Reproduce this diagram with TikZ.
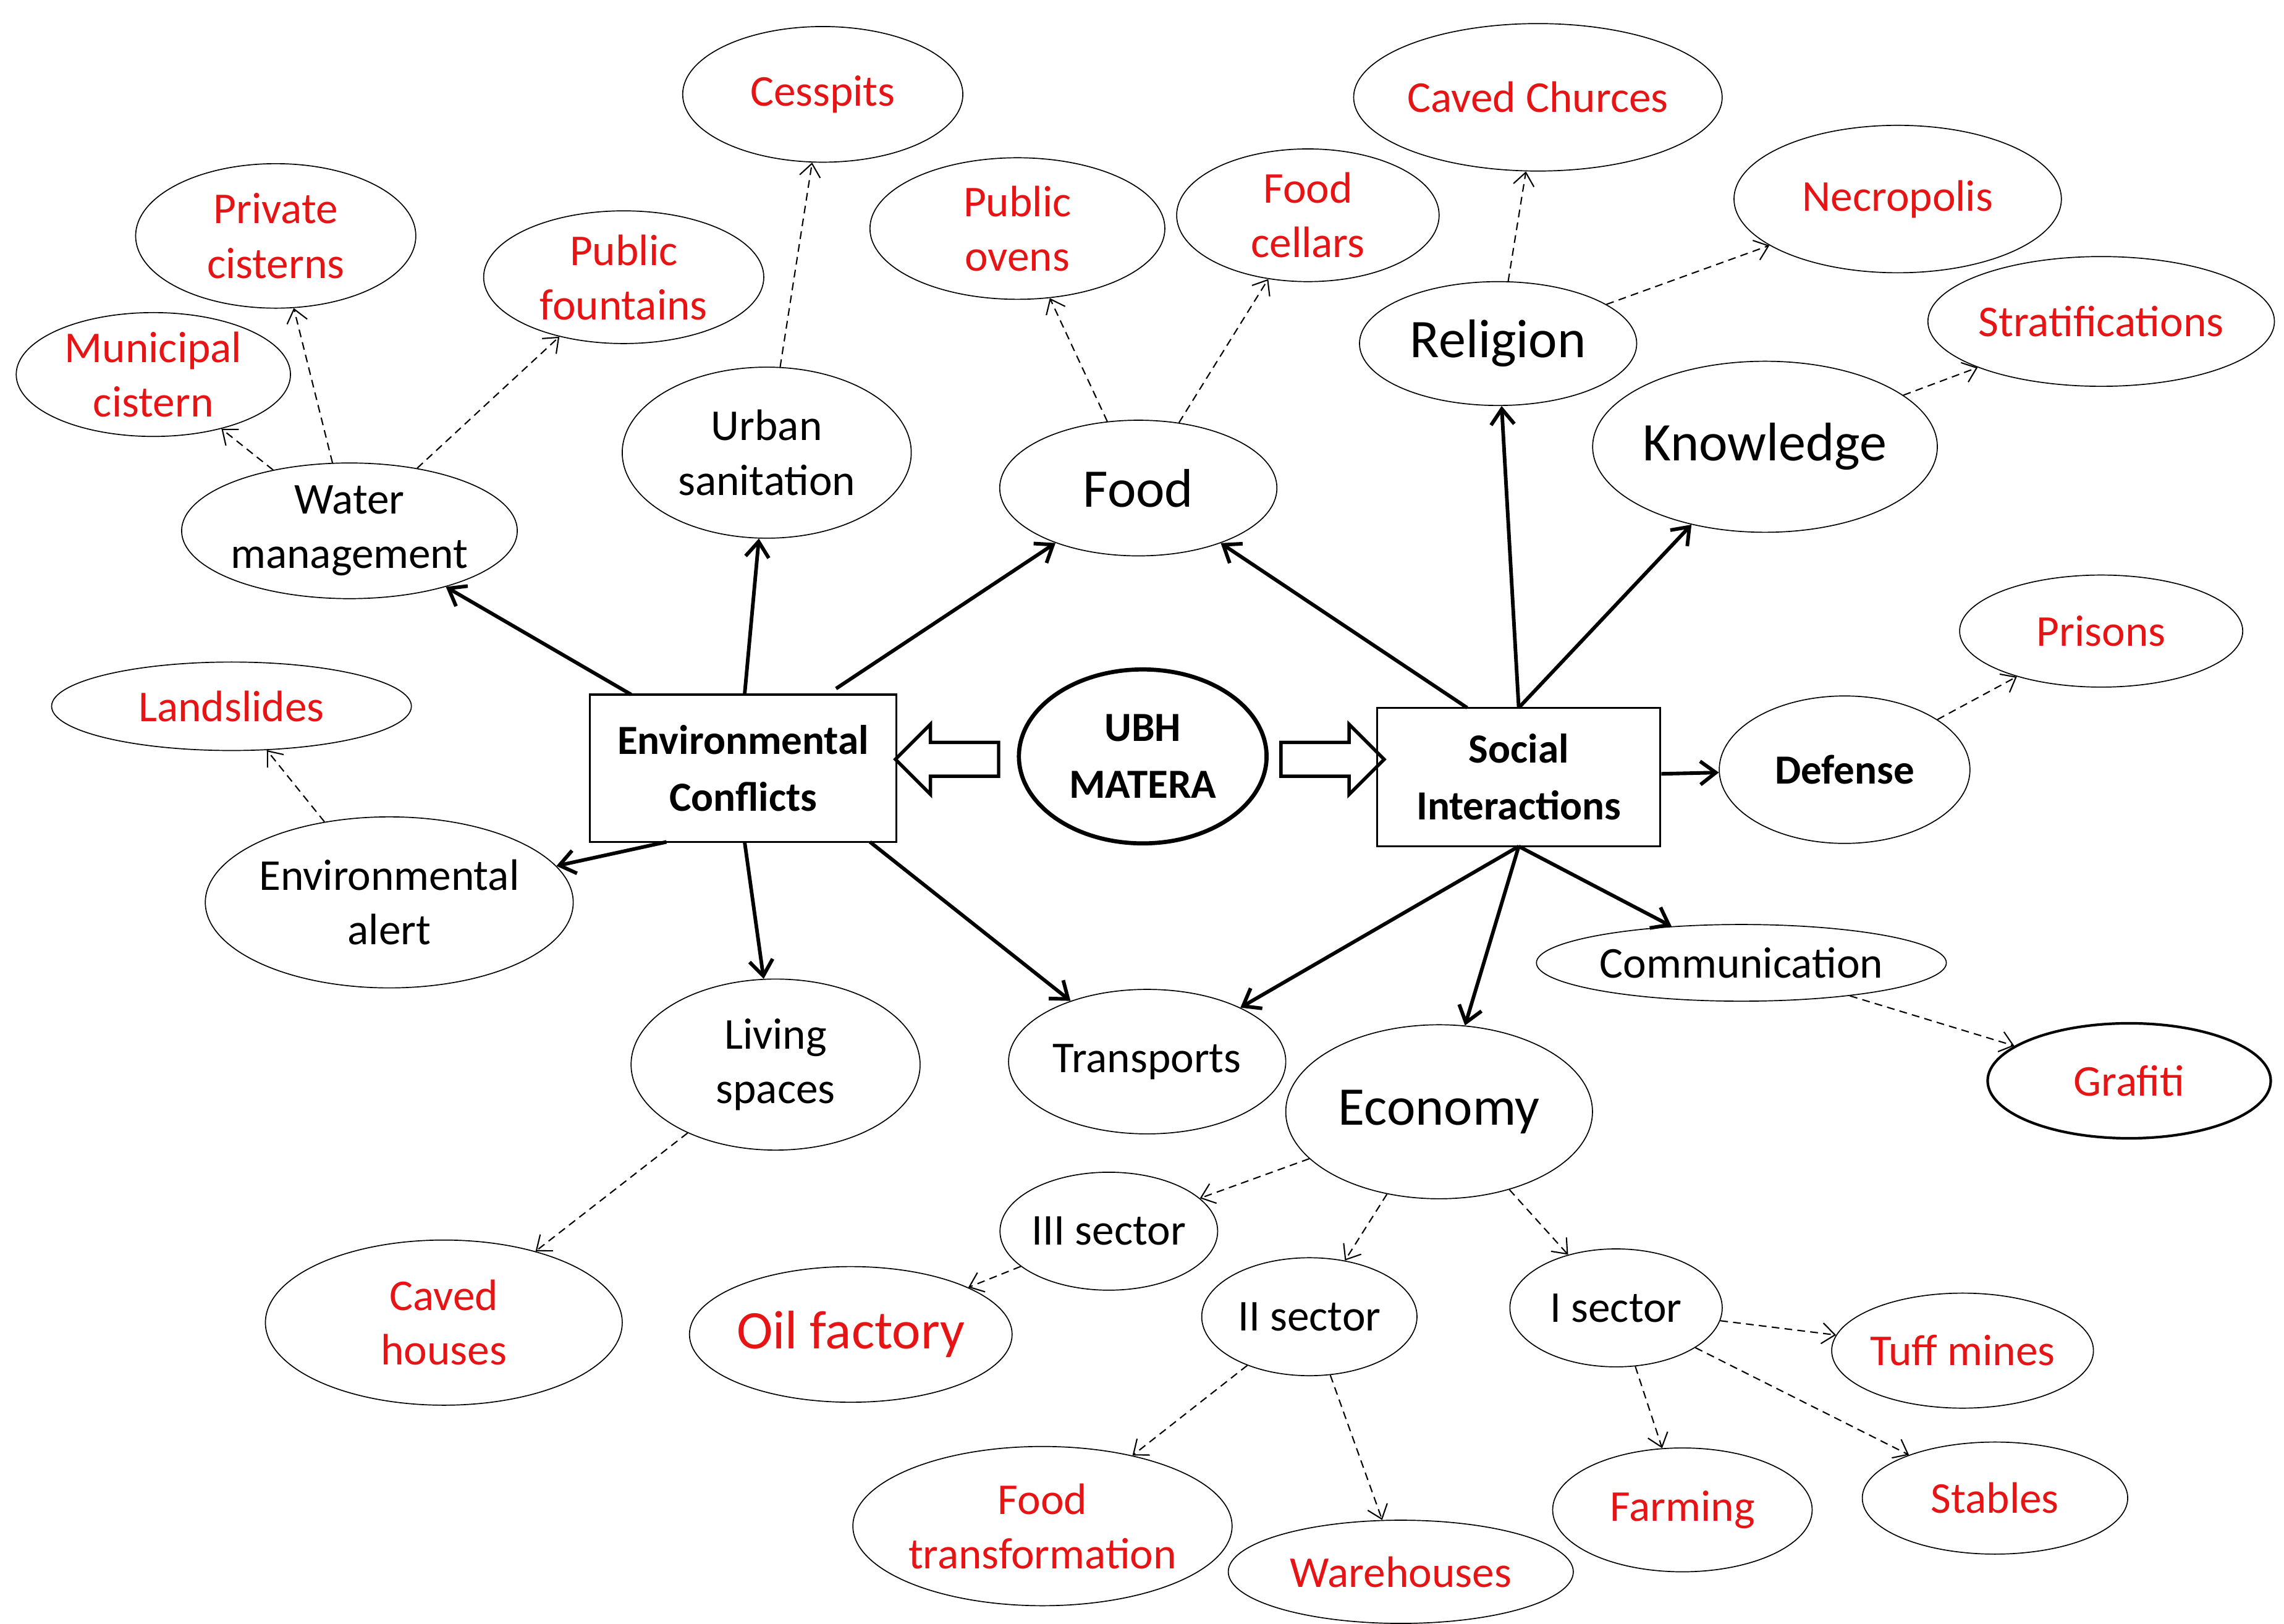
\documentclass[tikz,border=0pt]{standalone}
\usepackage{fontspec}
\setmainfont{Carlito}
\usetikzlibrary{shapes.geometric,shapes.arrows,arrows.meta}
\definecolor{rd}{RGB}{230,20,20}
\begin{document}
\begin{tikzpicture}[x=0.02cm,y=-0.02cm,
 e/.style={ellipse,draw,inner sep=0pt,align=center,font=\fontsize{17}{21}\selectfont},
 r/.style={e,text=rd},
 big/.style={font=\fontsize{21}{25}\selectfont},
 bx/.style={draw,thick,align=center,inner sep=0pt,font=\bfseries\fontsize{16}{22}\selectfont},
 s/.style={-{Straight Barb[length=6pt,width=9pt]},line width=1.4pt},
 d/.style={-{Straight Barb[length=5pt,width=8pt]},densely dashed,line width=0.5pt}]
\useasboundingbox (0,0) rectangle (1549,1101);
\node[e,thick,line width=1.6pt,minimum width=3.36cm,minimum height=2.36cm,font=\bfseries\fontsize{16}{22}\selectfont] (ubh) at (775,513) {UBH\\MATERA};
\node[bx,minimum width=4.16cm,minimum height=2cm] (env) at (504,521) {Environmental\\Conflicts};
\node[bx,minimum width=3.84cm,minimum height=1.88cm] (soc) at (1030,527) {Social\\Interactions};
\node[single arrow,draw,line width=1.3pt,minimum height=1.4cm,minimum width=0.95cm,single arrow head extend=0.15cm,shape border rotate=180] at (648,515) {};
\node[single arrow,draw,line width=1.3pt,minimum height=1.4cm,minimum width=0.95cm,single arrow head extend=0.15cm] at (898,515) {};
\def\N#1#2#3#4#5#6#7{\node[#1,minimum width=#4*0.02cm,minimum height=#5*0.02cm] (#6) at (#2,#3) {#7};}
\N{e}{237}{360}{206}{92}{wm}{Water\\management}
\N{r}{104}{254}{186}{84}{mc}{Municipal\\cistern}
\N{r}{187}{160}{190}{98}{pc}{Private\\cisterns}
\N{r}{423}{188}{190}{90}{pf}{Public\\fountains}
\N{r}{558}{64}{190}{92}{ce}{Cesspits}
\N{e}{520}{307}{196}{116}{us}{Urban\\sanitation}
\N{e,big}{772}{331}{188}{92}{fo}{Food}
\N{r}{690}{155}{200}{96}{po}{Public\\ovens}
\N{r}{887}{146}{178}{90}{fc}{Food\\cellars}
\N{r}{1043}{66}{214}{100}{cc}{Caved Churces}
\N{e,big}{1016}{233}{188}{84}{re}{Religion}
\N{r}{1287}{135}{222}{100}{ne}{Necropolis}
\N{r}{1425}{218}{218}{88}{st}{Stratifications}
\N{e,big}{1197}{303}{222}{116}{kn}{Knowledge}
\N{r}{1425}{428}{192}{76}{pr}{Prisons}
\N{e,font=\bfseries\fontsize{16}{22}\selectfont}{1251}{522}{170}{100}{de}{Defense}
\N{r}{157}{479}{244}{60}{la}{Landslides}
\N{e}{264}{612}{224}{116}{ea}{Environmental\\alert}
\N{e}{526}{722}{196}{116}{ls}{Living\\spaces}
\N{e}{778}{720}{188}{98}{tr}{Transports}
\N{e}{1181}{653}{278}{52}{co}{Communication}
\N{r,line width=1pt}{1444}{733}{192}{78}{gr}{Grafiti}
\N{e,big}{976}{754}{208}{118}{ec}{Economy}
\N{e}{752}{835}{146}{80}{s3}{III sector}
\N{r,big}{577}{905}{204}{92}{of}{Oil factory}
\N{e}{888}{893}{146}{80}{s2}{II sector}
\N{e}{1096}{887}{144}{80}{s1}{I sector}
\N{r}{1331}{916}{170}{78}{tm}{Tuff mines}
\N{r}{301}{897}{242}{112}{ch}{Caved\\houses}
\N{r}{707}{1035}{234}{108}{ft}{Food\\transformation}
\N{r}{950}{1066}{234}{70}{wh}{Warehouses}
\N{r}{1141}{1024}{176}{84}{fa}{Farming}
\N{r}{1353}{1016}{180}{76}{sb}{Stables}
\coordinate (e1) at (428,471); \coordinate (e2) at (505,471); \coordinate (e3) at (567,467);
\coordinate (e4) at (452,571); \coordinate (e5) at (505,571); \coordinate (e6) at (590,571);
\coordinate (t1) at (1030,480); \coordinate (t2) at (1030,574); \coordinate (t3) at (995,480);
\foreach \a/\b in {e1/wm,e2/us,e3/fo,e4/ea,e5/ls,e6/tr,t3/fo,t1/re,t1/kn,soc/de,t2/co,t2/tr,t2/ec}
  \draw[s] (\a) -- (\b);
\foreach \a/\b in {wm/mc,wm/pc,wm/pf,us/ce,fo/po,fo/fc,re/cc,re/ne,kn/st,de/pr,ea/la,ls/ch,co/gr,ec/s3,ec/s2,ec/s1,s3/of,s2/ft,s2/wh,s1/tm,s1/fa,s1/sb}
  \draw[d] (\a) -- (\b);
\end{tikzpicture}
\end{document}
